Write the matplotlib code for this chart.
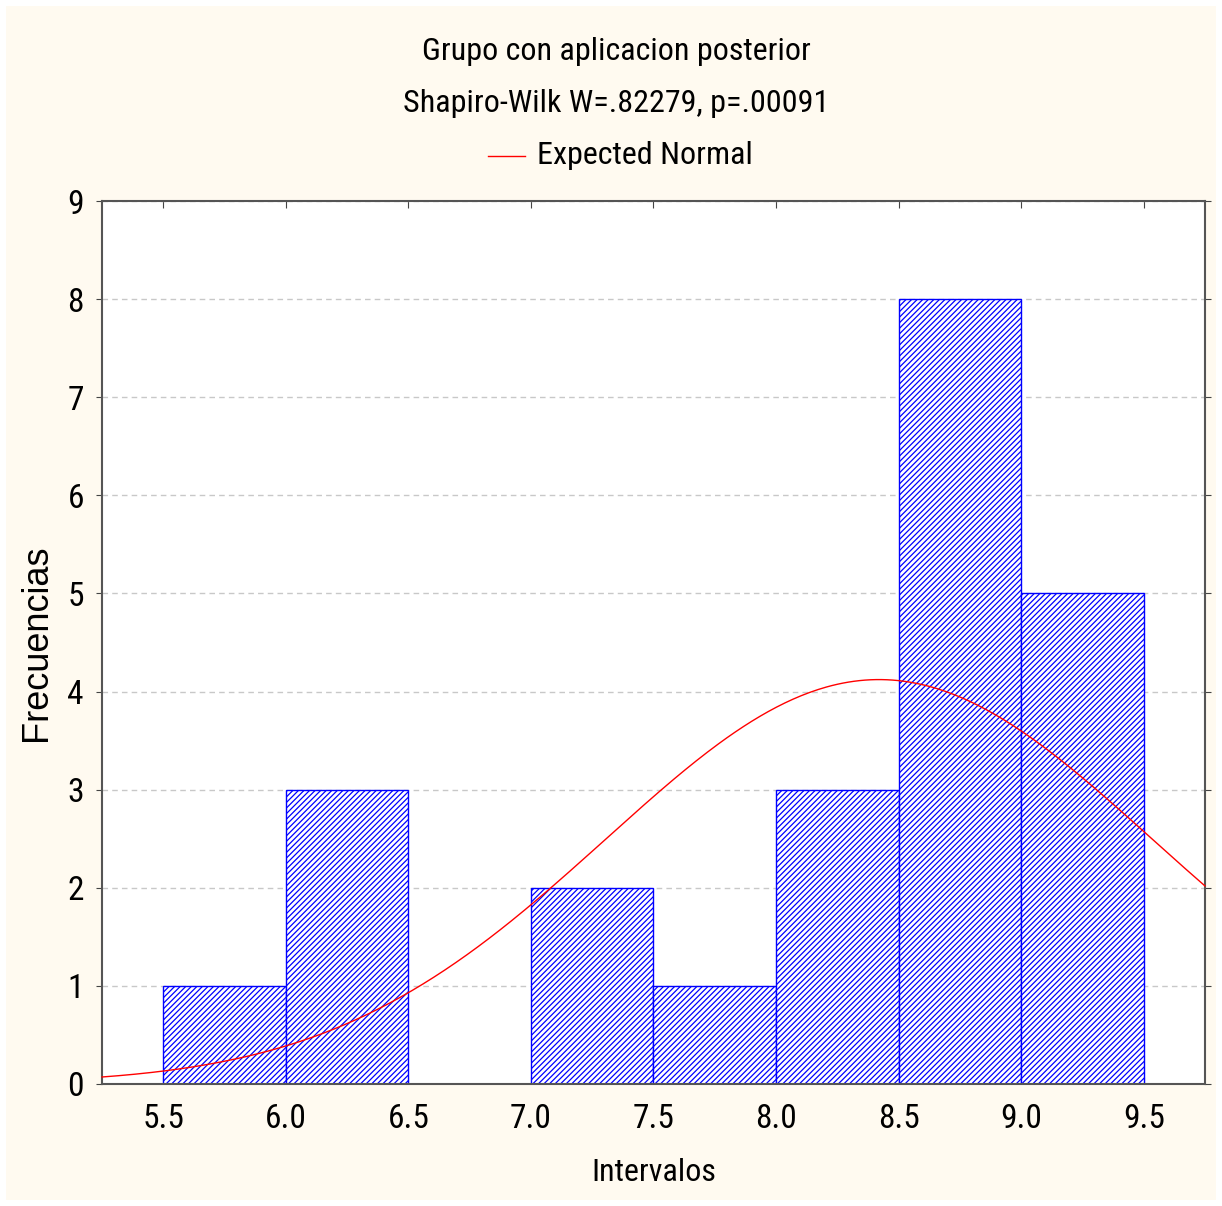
import numpy as np
from matplotlib import pyplot as plt
from matplotlib.patches import Rectangle

# histogram data
bin_left = [5.5, 6.0, 6.5, 7.0, 7.5, 8.0, 8.5, 9.0]
counts = [1, 3, 0, 2, 1, 3, 8, 5]
bin_width = 0.5

# expected normal (fitted) parameters, estimated from the curve
n_obs = 23
mean = 8.42
sd = 1.113

x_ticks = [5.5, 6.0, 6.5, 7.0, 7.5, 8.0, 8.5, 9.0, 9.5]
y_ticks = [0, 1, 2, 3, 4, 5, 6, 7, 8, 9]

title1 = 'Grupo con aplicacion posterior'
title2 = 'Shapiro-Wilk W=.82279, p=.00091'

narrow = ['Roboto Condensed', 'Roboto', 'DejaVu Sans']
plt.rcParams['font.family'] = narrow
plt.rcParams['hatch.linewidth'] = 0.9

W, H = 1222, 1206
fig = plt.figure(figsize=(W / 100, H / 100), dpi=100, facecolor='white')
fig.patches.append(Rectangle((6 / W, 6 / H), 1210 / W, 1194 / H, transform=fig.transFigure,
                             facecolor='#FFFAF0', edgecolor='none', zorder=-10))

ax = fig.add_axes([102 / W, 1 - 1084 / H, 1103 / W, 883 / H])
ax.set_facecolor('white')

ax.bar(bin_left, counts, width=bin_width, align='edge', facecolor='white',
       edgecolor='blue', hatch='//////', linewidth=1.0, zorder=2)

xs = np.linspace(5.25, 9.75, 400)
ys = n_obs * bin_width / (sd * np.sqrt(2 * np.pi)) * np.exp(-0.5 * ((xs - mean) / sd) ** 2)
ax.plot(xs, ys, color='red', linewidth=1.0, zorder=3, clip_on=False)

ax.set_xlim(5.25, 9.75)
ax.set_ylim(0, 9)
ax.set_xticks(x_ticks)
ax.set_xticklabels(['%.1f' % v for v in x_ticks])
ax.set_yticks(y_ticks)
ax.yaxis.grid(True, linestyle=(0, (4, 3)), color='#c8c8c8', linewidth=1.0, zorder=0)
ax.set_axisbelow(True)

ax.tick_params(axis='both', labelsize=24, length=0, pad=14)
ax.tick_params(axis='x', top=True, direction='in', length=5, color='#444444')
ax.tick_params(axis='y', left=True, right=True, direction='out', length=4, color='#444444', pad=9)

for s in ax.spines.values():
    s.set_color('#555555')
    s.set_linewidth(1.5)

ax.set_xlabel('Intervalos', fontsize=23, labelpad=16)
ax.set_ylabel('Frecuencias', fontsize=26, family=['Liberation Sans', 'DejaVu Sans'], labelpad=10)

fig.text(616 / W, 1 - 52 / H, title1, fontsize=23, ha='center', va='center')
fig.text(616 / W, 1 - 103 / H, title2, fontsize=23, ha='center', va='center')
fig.lines.append(plt.Line2D([488 / W, 525 / W], [1 - 156 / H, 1 - 156 / H],
                            transform=fig.transFigure, color='red', linewidth=1.0))
fig.text(537 / W, 1 - 155 / H, 'Expected Normal', fontsize=23, ha='left', va='center')

fig.savefig('out.png', dpi=100, facecolor=fig.get_facecolor())
